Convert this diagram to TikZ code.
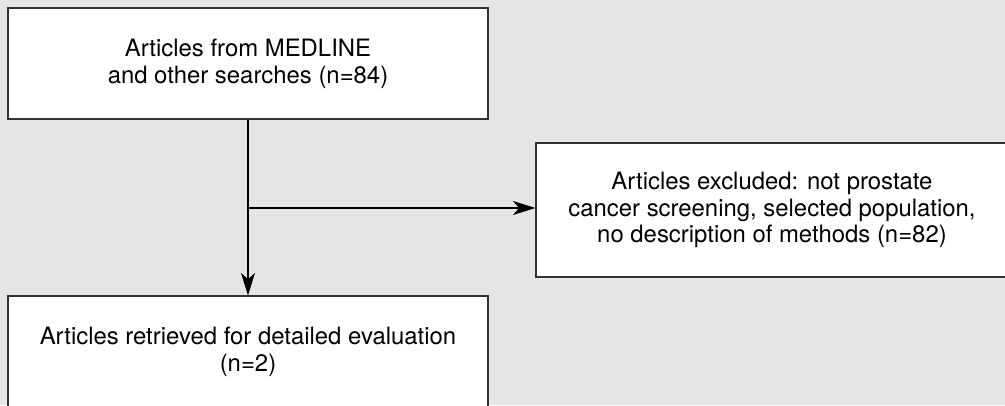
\documentclass[tikz,border=0pt]{standalone}
\usepackage{fontspec}
\setmainfont{TeX Gyre Heros}
\usepackage{tikz}
\usetikzlibrary{arrows.meta,positioning,calc}

\begin{document}
\begin{tikzpicture}[>={Stealth[length=16pt,width=10pt,inset=4.5pt]},
  font=\fontsize{17}{19}\selectfont,
  box/.style={draw=black!80,line width=0.9pt,fill=white,align=center,inner sep=0pt},
  link/.style={draw=black,line width=0.75pt}]
% page and grey ground
\useasboundingbox (0,0) rectangle (25.125,-10.125);
\clip (0,0) rectangle (25.125,-10.125);
\fill[black!10] (0,0) rectangle (25.125,-10.125);
\node[box,minimum width=12cm,minimum height=2.775cm] (found) at (6.2,-1.5875)
  {Articles from MEDLINE\\ and other searches (n=84)};
\node[box,minimum width=11.8cm,minimum height=3.35cm] (excl) at (19.3,-5.25)
  {Articles excluded: not prostate\\ cancer screening, selected population,\\ no description of methods (n=82)};
\node[box,minimum width=12cm,minimum height=2.8cm] (kept) at (6.2,-8.8)
  {Articles retrieved for detailed evaluation\\ (n=2)};
\coordinate (split) at (found.south |- 0,-5.2);
\draw[link,->] (found.south) -- (kept.north);
\draw[link,->] (split) -- (split -| excl.west);
\end{tikzpicture}
\end{document}
